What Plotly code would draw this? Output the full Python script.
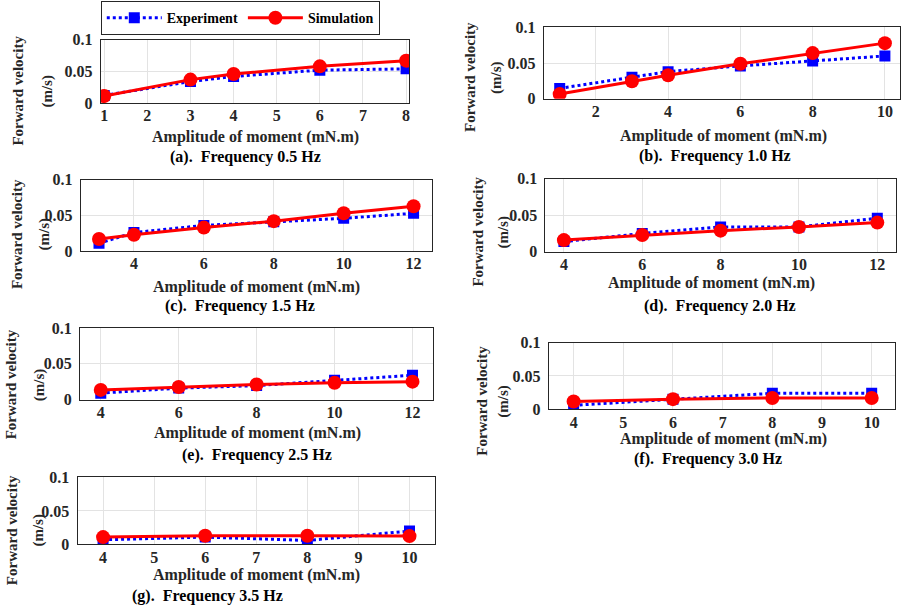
import plotly.graph_objects as go

W, H = 906, 616

# ---------------- data ----------------
panel_labels = ["(a).  Frequency 0.5 Hz", "(b).  Frequency 1.0 Hz", "(c).  Frequency 1.5 Hz",
                "(d).  Frequency 2.0 Hz", "(e).  Frequency 2.5 Hz", "(f).  Frequency 3.0 Hz",
                "(g).  Frequency 3.5 Hz"]

amp_a = [1, 3, 4, 6, 8]
exp_a = [0.012, 0.034, 0.042, 0.052, 0.054]
sim_a = [0.011, 0.037, 0.046, 0.058, 0.067]

amp_b = [1, 3, 4, 6, 8, 10]
exp_b = [0.0145, 0.030, 0.038, 0.046, 0.053, 0.060]
sim_b = [0.0065, 0.0245, 0.033, 0.049, 0.064, 0.078]

amp_c = [3, 4, 6, 8, 10, 12]
exp_c = [0.011, 0.026, 0.036, 0.041, 0.046, 0.053]
sim_c = [0.017, 0.023, 0.033, 0.042, 0.053, 0.063]

amp_d = [4, 6, 8, 10, 12]
exp_d = [0.014, 0.025, 0.034, 0.034, 0.046]
sim_d = [0.016, 0.023, 0.029, 0.034, 0.040]

amp_e = [4, 6, 8, 10, 12]
exp_e = [0.009, 0.016, 0.0195, 0.027, 0.034]
sim_e = [0.0135, 0.0175, 0.021, 0.0235, 0.025]

amp_f = [4, 6, 8, 10]
exp_f = [0.006, 0.015, 0.024, 0.024]
sim_f = [0.0117, 0.0152, 0.017, 0.017]

amp_g = [4, 6, 8, 10]
exp_g = [0.007, 0.011, 0.006, 0.020]
sim_g = [0.011, 0.013, 0.013, 0.0125]

xticks_a = [1, 2, 3, 4, 5, 6, 7, 8]
xticks_b = [2, 4, 6, 8, 10]
xticks_c = [4, 6, 8, 10, 12]
xticks_d = [4, 6, 8, 10, 12]
xticks_e = [4, 6, 8, 10, 12]
xticks_f = [4, 5, 6, 7, 8, 9, 10]
xticks_g = [4, 5, 6, 7, 8, 9, 10]

yticks = [0, 0.05, 0.1]
yticktext = ["0", "0.05", "0.1"]

x_title = "Amplitude of moment (mN.m)"
y_title_1 = "Forward velocity"
y_title_2 = "(m/s)"

# ---------------- layout (pixel geometry) ----------------
panels = [
    dict(x=amp_a, e=exp_a, s=sim_a, ticks=xticks_a, box=(100, 409, 32.7, 97.7), xr=(0.92, 8.07),
         xt=(255, 133), cap=(245, 153), yt=(17, 47, 85)),
    dict(x=amp_b, e=exp_b, s=sim_b, ticks=xticks_b, box=(544, 900.7, 20, 93.3), xr=(0.56, 10.41),
         xt=(724, 131.7), cap=(716, 151.7), yt=(470, 496, 71)),
    dict(x=amp_c, e=exp_c, s=sim_c, ticks=xticks_c, box=(80, 431.7, 176.7, 250), xr=(2.48, 12.52),
         xt=(256, 286.7), cap=(240, 306.7), yt=(15.5, 44, 232)),
    dict(x=amp_d, e=exp_d, s=sim_d, ticks=xticks_d, box=(545.7, 896.7, 175.7, 250.7), xr=(3.53, 12.47),
         xt=(712.5, 283.3), cap=(720.5, 306.7), yt=(478, 504, 230)),
    dict(x=amp_e, e=exp_e, s=sim_e, ticks=xticks_e, box=(79.3, 432.7, 329, 402.7), xr=(3.47, 12.52),
         xt=(256.7, 436.7), cap=(256.7, 460), yt=(10, 38, 387)),
    dict(x=amp_f, e=exp_f, s=sim_f, ticks=xticks_f, box=(549, 896, 344, 412.7), xr=(3.5, 10.47),
         xt=(724, 443.3), cap=(709, 463.3), yt=(482, 504, 404)),
    dict(x=amp_g, e=exp_g, s=sim_g, ticks=xticks_g, box=(76.7, 435, 482.7, 551.7), xr=(3.5, 10.5),
         xt=(256, 583.3), cap=(207, 605), yt=(11, 37.5, 537)),
]

FONT = "Liberation Serif, Times New Roman, serif"
TXT = "#262626"

fig = go.Figure()
annotations = []

for i, p in enumerate(panels):
    n = "" if i == 0 else str(i + 1)
    xa, ya = "x" + n, "y" + n
    l, r, t, b = p["box"]
    fig.add_trace(go.Scatter(
        x=p["x"], y=p["e"], mode="lines+markers", name="Experiment",
        line=dict(color="#0000ff", width=3, dash="dot"),
        marker=dict(symbol="square", size=11, color="#0000ff"),
        xaxis=xa, yaxis=ya, showlegend=(i == 0), legendrank=1))
    fig.add_trace(go.Scatter(
        x=p["x"], y=p["s"], mode="lines+markers", name="Simulation",
        line=dict(color="#ff0000", width=3),
        marker=dict(symbol="circle", size=14, color="#ff0000"),
        xaxis=xa, yaxis=ya, showlegend=(i == 0), legendrank=2))
    axcommon = dict(showline=True, linecolor=TXT, linewidth=1.3, mirror=True,
                    showgrid=True, gridcolor="#e3e3e3", gridwidth=1, zeroline=False,
                    ticks="", tickfont=dict(family=FONT, size=16, color=TXT, weight="bold"))
    fig.update_layout(**{
        ("xaxis" + n): dict(domain=[l / W, r / W], range=list(p["xr"]), tickvals=p["ticks"],
                            anchor=ya, ticklabelstandoff=-2, **axcommon),
        ("yaxis" + n): dict(domain=[1 - b / H, 1 - t / H], range=[0, 0.1], tickvals=yticks,
                            ticktext=yticktext, anchor=xa, ticklabelstandoff=4, **axcommon),
    })
    annotations.append(dict(text=x_title, x=p["xt"][0] / W, y=1 - p["xt"][1] / H,
                            font=dict(family=FONT, size=16, color=TXT, weight="bold")))
    annotations.append(dict(text=panel_labels[i], x=p["cap"][0] / W, y=1 - p["cap"][1] / H,
                            font=dict(family=FONT, size=16, color="#000000", weight="bold")))
    annotations.append(dict(text=y_title_1, x=p["yt"][0] / W, y=1 - p["yt"][2] / H, textangle=-90,
                            font=dict(family=FONT, size=15, color=TXT, weight="bold")))
    annotations.append(dict(text=y_title_2, x=p["yt"][1] / W, y=1 - p["yt"][2] / H, textangle=-90,
                            font=dict(family=FONT, size=15, color=TXT, weight="bold")))

for a in annotations:
    a.update(xref="paper", yref="paper", xanchor="center", yanchor="middle", showarrow=False)

fig.update_layout(
    width=W, height=H, margin=dict(l=0, r=0, t=0, b=0),
    paper_bgcolor="white", plot_bgcolor="white",
    annotations=annotations,
    legend=dict(orientation="h", x=100 / W, y=1 + 7 / H, xanchor="left", yanchor="top",
                bgcolor="white", bordercolor=TXT, borderwidth=1, itemwidth=55,
                font=dict(family=FONT, size=14, color="#000000", weight="bold")),
)

fig.write_html("out.html")
